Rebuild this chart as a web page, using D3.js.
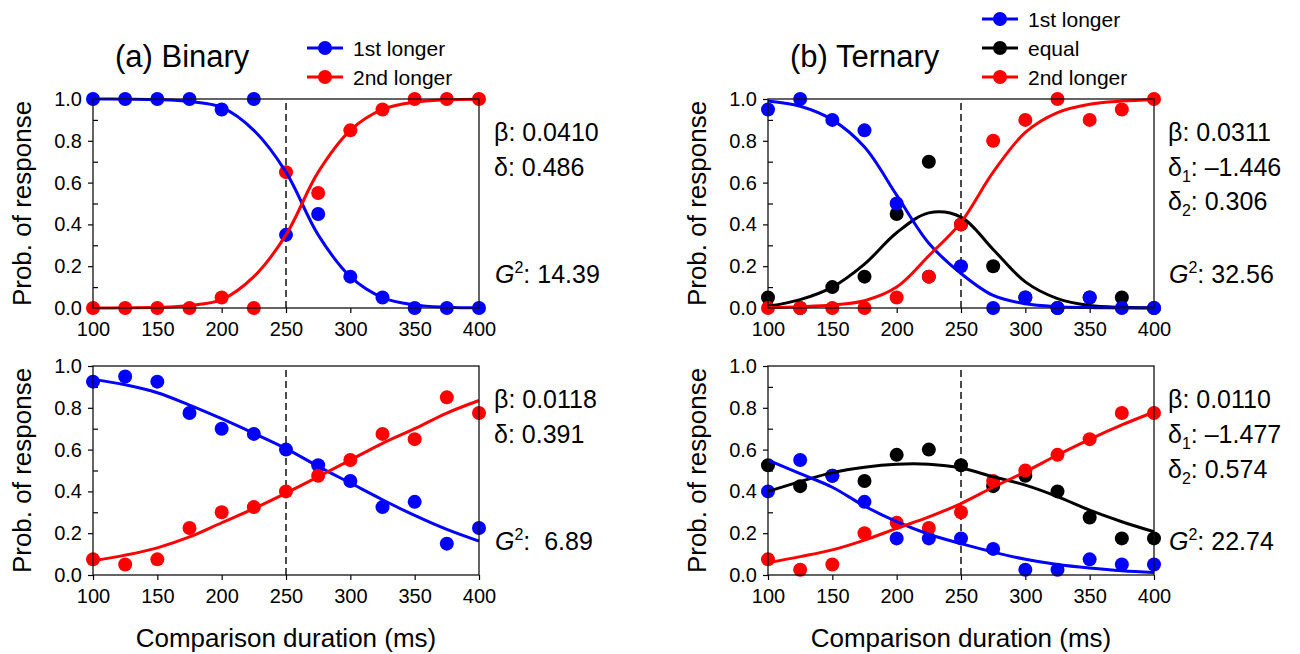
<!DOCTYPE html>
<html><head><meta charset="utf-8">
<script src="https://cdn.jsdelivr.net/npm/d3@7"></script>
<style>body{margin:0;background:#fff}svg{display:block;font-family:"Liberation Sans",Arial,Helvetica,sans-serif}</style>
</head><body>
<svg id="chart" width="1300" height="654"></svg>
<script>
// ---------- data ----------
const durations = [100,125,150,175,200,225,250,275,300,325,350,375,400];
const xTickValues = [100,150,200,250,300,350,400];
const yTickValues = [0,0.2,0.4,0.6,0.8,1.0];
const yMinorTickValues = [0.1,0.3,0.5,0.7,0.9];
const standardDuration = 250;

// (a) Binary - top
const binTopFirst  = [1,1,1,1,0.95,1,0.35,0.45,0.15,0.05,0,0,0];
const binTopSecond = [0,0,0,0,0.05,0,0.65,0.55,0.85,0.95,1,1,1];
const binTopFitFirst  = [1.0,0.999,0.997,0.988,0.96,0.85,0.65,0.35,0.15,0.05,0.015,0.004,0.001];
const binTopFitSecond = [0.0,0.001,0.003,0.012,0.04,0.15,0.35,0.65,0.85,0.95,0.985,0.996,0.999];
// (a) Binary - bottom
const binBotFirst  = [0.925,0.95,0.925,0.775,0.70,0.675,0.60,0.525,0.45,0.325,0.35,0.15,0.225];
const binBotSecond = [0.075,0.05,0.075,0.225,0.30,0.325,0.40,0.475,0.55,0.675,0.65,0.85,0.775];
const binBotFitFirst  = [0.936,0.91,0.872,0.813,0.748,0.678,0.605,0.52,0.44,0.36,0.285,0.218,0.162];
const binBotFitSecond = [0.068,0.095,0.13,0.182,0.25,0.318,0.392,0.47,0.55,0.63,0.70,0.775,0.835];

// (b) Ternary - top
const terTopFirst  = [0.95,1.0,0.9,0.85,0.5,0.15,0.2,0,0.05,0,0.05,0,0];
const terTopEqual  = [0.05,0,0.1,0.15,0.45,0.7,0.4,0.2,0.05,0,0.05,0.05,0];
const terTopSecond = [0,0,0,0,0.05,0.15,0.4,0.8,0.9,1.0,0.9,0.95,1.0];
const terTopFitFirst  = [0.99,0.965,0.9,0.77,0.54,0.31,0.165,0.06,0.02,0.006,0.002,0.0005,0];
const terTopFitEqual  = [0.008,0.04,0.10,0.21,0.36,0.455,0.435,0.28,0.125,0.045,0.012,0.003,0.001];
const terTopFitSecond = [0.002,0.006,0.014,0.035,0.10,0.25,0.41,0.65,0.84,0.935,0.975,0.99,0.997];
// (b) Ternary - bottom
const terBotFirst  = [0.4,0.55,0.475,0.35,0.175,0.175,0.175,0.125,0.025,0.025,0.075,0.05,0.05];
const terBotEqual  = [0.525,0.425,0.475,0.45,0.575,0.6,0.525,0.425,0.475,0.4,0.275,0.175,0.175];
const terBotSecond = [0.075,0.025,0.05,0.2,0.25,0.225,0.3,0.45,0.5,0.575,0.65,0.775,0.775];
const terBotFitFirst  = [0.55,0.485,0.42,0.33,0.255,0.195,0.15,0.11,0.075,0.05,0.033,0.02,0.012];
const terBotFitEqual  = [0.40,0.447,0.49,0.516,0.53,0.53,0.512,0.47,0.43,0.375,0.31,0.255,0.207];
const terBotFitSecond = [0.059,0.088,0.12,0.167,0.223,0.278,0.342,0.42,0.494,0.574,0.649,0.718,0.78];

// fitted parameters shown next to each panel
const binTopParams = ["0.0410","0.486","14.39"];
const binBotParams = ["0.0118","0.391"," 6.89"];
const terTopParams = ["0.0311","\u20131.446","0.306","32.56"];
const terBotParams = ["0.0110","\u20131.477","0.574","22.74"];

const seriesLabels = ["1st longer","equal","2nd longer"];
const titles = ["(a) Binary","(b) Ternary"];

// ---------- drawing ----------
const BLUE = "#0000ff", RED = "#ff0000", BLACK = "#000000";
const svg = d3.select("#chart");
const R = 7;

function drawPanel(x0, x1, yTop, yBot, layers) {
  const x = d3.scaleLinear().domain([100,400]).range([x0,x1]);
  const y = d3.scaleLinear().domain([0,1]).range([yBot,yTop]);
  const g = svg.append("g");

  const ax = g.append("g").attr("transform",`translate(0,${yBot})`)
    .call(d3.axisBottom(x).tickValues(xTickValues).tickSize(5).tickPadding(9).tickFormat(d3.format("d")));
  const ay = g.append("g").attr("transform",`translate(${x0},0)`)
    .call(d3.axisLeft(y).tickValues(yTickValues).tickSize(5).tickPadding(6).tickFormat(d3.format(".1f")));
  const aym = g.append("g").attr("transform",`translate(${x0},0)`)
    .call(d3.axisLeft(y).tickValues(yMinorTickValues).tickSize(-5).tickFormat(""));
  [ax,ay,aym].forEach(a => {
    a.select(".domain").remove();
    a.selectAll("line").attr("stroke","#000").attr("stroke-width",1.2);
    a.selectAll("text").attr("font-size",20).attr("fill","#000")
      .attr("font-family",'"Liberation Sans",Arial,sans-serif');
  });

  g.append("line").attr("x1",x(standardDuration)).attr("x2",x(standardDuration))
    .attr("y1",y(0)).attr("y2",y(1)).attr("stroke","#000").attr("stroke-width",1.4)
    .attr("stroke-dasharray","7,4");

  layers.forEach(L => {
    g.append("g").selectAll("circle").data(durations.map((d,i)=>[d,L.obs[i]])).join("circle")
      .attr("cx",d=>x(d[0])).attr("cy",d=>y(d[1])).attr("r",R).attr("fill",L.color);
  });
  const line = d3.line().x(d=>x(d[0])).y(d=>y(d[1])).curve(d3.curveCatmullRom.alpha(0.5));
  layers.forEach(L => {
    g.append("path").datum(durations.map((d,i)=>[d,L.fit[i]])).attr("d",line)
      .attr("fill","none").attr("stroke",L.color).attr("stroke-width",3);
  });

  g.append("rect").attr("x",x0).attr("y",yTop).attr("width",x1-x0).attr("height",yBot-yTop)
    .attr("fill","none").attr("stroke","#111").attr("stroke-width",1.3);
  return {x,y};
}

const LX0 = 93, LX1 = 479, RX0 = 768, RX1 = 1154;
const TT = 99, TB = 308, BT = 366, BB = 575;

drawPanel(LX0,LX1,TT,TB,[
  {obs:binTopFirst, fit:binTopFitFirst, color:BLUE},
  {obs:binTopSecond, fit:binTopFitSecond, color:RED}]);
drawPanel(LX0,LX1,BT,BB,[
  {obs:binBotFirst, fit:binBotFitFirst, color:BLUE},
  {obs:binBotSecond, fit:binBotFitSecond, color:RED}]);
drawPanel(RX0,RX1,TT,TB,[
  {obs:terTopEqual, fit:terTopFitEqual, color:BLACK},
  {obs:terTopFirst, fit:terTopFitFirst, color:BLUE},
  {obs:terTopSecond, fit:terTopFitSecond, color:RED}]);
drawPanel(RX0,RX1,BT,BB,[
  {obs:terBotEqual, fit:terBotFitEqual, color:BLACK},
  {obs:terBotFirst, fit:terBotFitFirst, color:BLUE},
  {obs:terBotSecond, fit:terBotFitSecond, color:RED}]);

[[LX0,LX1],[RX0,RX1]].forEach(([a,b]) => {
  svg.append("text").attr("x",(a+b)/2).attr("y",647).attr("text-anchor","middle")
    .attr("font-size",26).text("Comparison duration (ms)");
  [[TT,TB],[BT,BB]].forEach(([t,bm]) => {
    svg.append("text").attr("transform",`translate(${a-62},${(t+bm)/2}) rotate(-90)`)
      .attr("text-anchor","middle").attr("font-size",26).text("Prob. of response");
  });
});

svg.append("text").attr("x",115).attr("y",67).attr("font-size",31).text(titles[0]);
svg.append("text").attr("x",790).attr("y",67).attr("font-size",31).text(titles[1]);

function legend(cx, rows) {
  rows.forEach(([label,color,yy]) => {
    svg.append("line").attr("x1",cx-18).attr("x2",cx+18).attr("y1",yy).attr("y2",yy)
      .attr("stroke",color).attr("stroke-width",3);
    svg.append("circle").attr("cx",cx).attr("cy",yy).attr("r",R).attr("fill",color);
    svg.append("text").attr("x",cx+28).attr("y",yy+7.5).attr("font-size",21).text(label);
  });
}
legend(325,[[seriesLabels[0],BLUE,48],[seriesLabels[2],RED,77]]);
legend(1000,[[seriesLabels[0],BLUE,19],[seriesLabels[1],BLACK,48],[seriesLabels[2],RED,77]]);

const FS = 25;
function plainRow(xx, yy, sym, val) {
  svg.append("text").attr("x",xx).attr("y",yy).attr("font-size",FS).text(sym + ": " + val);
}
function subRow(xx, yy, sym, sub, val) {
  const t = svg.append("text").attr("x",xx).attr("y",yy).attr("font-size",FS);
  t.append("tspan").text(sym);
  t.append("tspan").attr("font-size",16).attr("dy",6).text(sub);
  t.append("tspan").attr("dy",-6).text(": " + val);
}
function g2Row(xx, yy, val) {
  const t = svg.append("text").attr("x",xx).attr("y",yy).attr("font-size",FS).style("white-space","pre");
  t.append("tspan").attr("font-style","italic").text("G");
  t.append("tspan").attr("font-size",16).attr("dy",-10).text("2");
  t.append("tspan").attr("dy",10).text(": " + val);
}
plainRow(494,141,"\u03b2",binTopParams[0]);
plainRow(494,176,"\u03b4",binTopParams[1]);
g2Row(495,283,binTopParams[2]);
plainRow(494,408,"\u03b2",binBotParams[0]);
plainRow(494,443,"\u03b4",binBotParams[1]);
g2Row(495,550,binBotParams[2]);

plainRow(1168,141,"\u03b2",terTopParams[0]);
subRow(1168,176,"\u03b4","1",terTopParams[1]);
subRow(1168,210,"\u03b4","2",terTopParams[2]);
g2Row(1169,283,terTopParams[3]);
plainRow(1168,408,"\u03b2",terBotParams[0]);
subRow(1168,443,"\u03b4","1",terBotParams[1]);
subRow(1168,478,"\u03b4","2",terBotParams[2]);
g2Row(1169,550,terBotParams[3]);
</script>
</body></html>
